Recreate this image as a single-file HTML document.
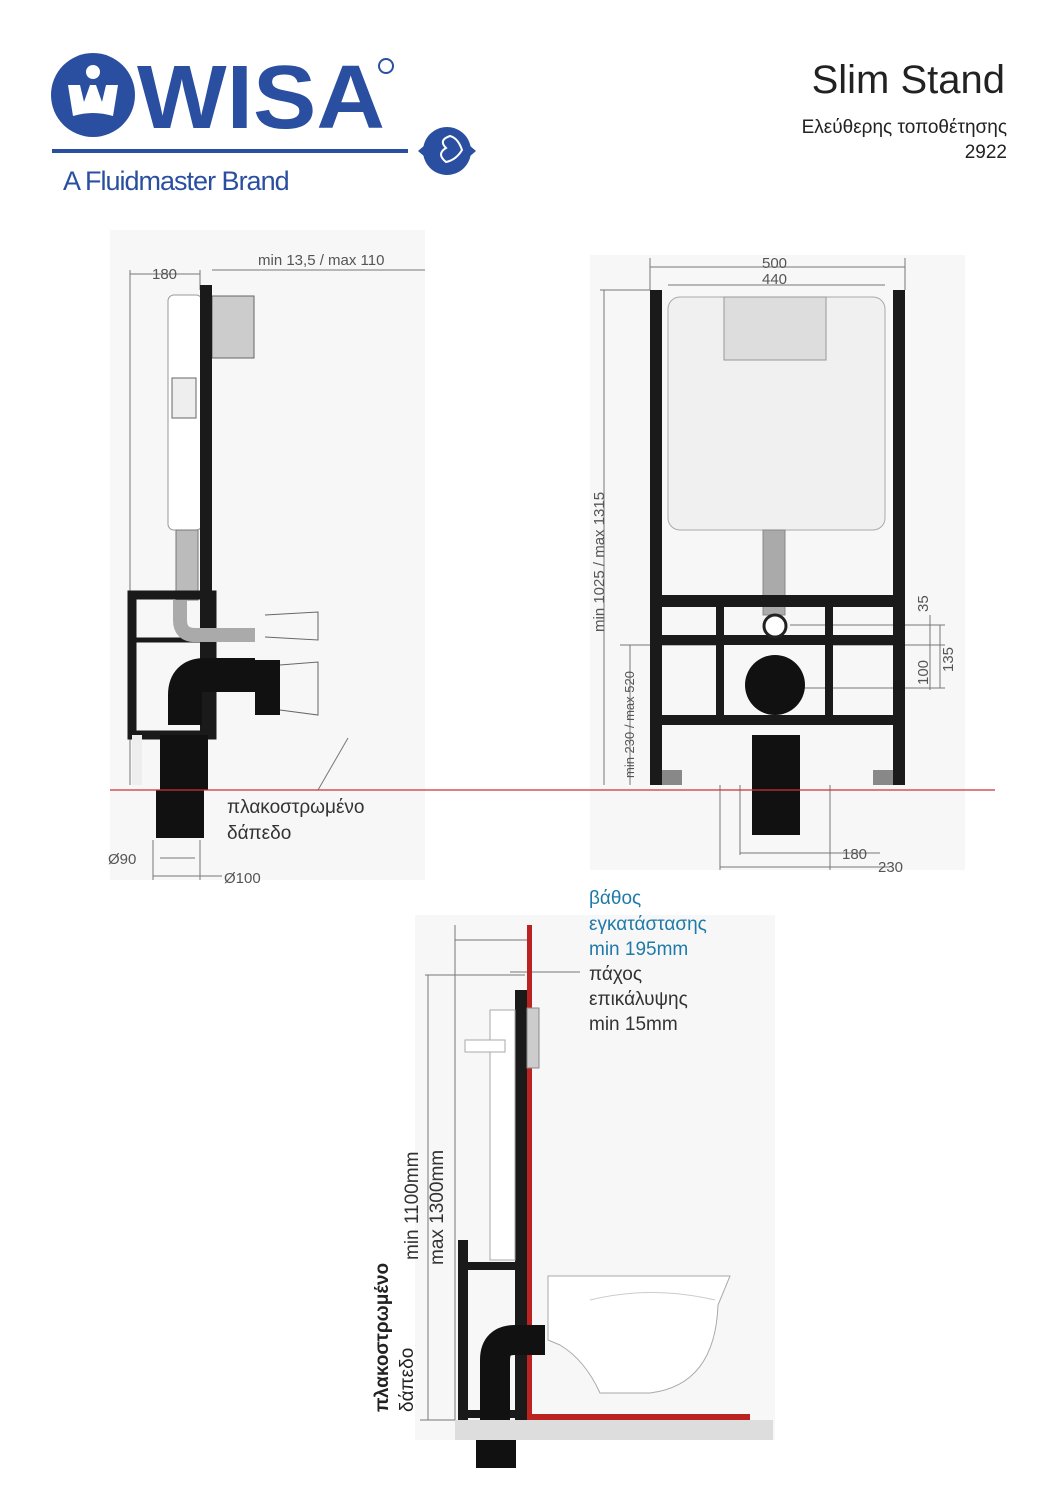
<!DOCTYPE html>
<html><head><meta charset="utf-8"><style>
html,body{margin:0;padding:0;background:#fff}
svg{display:block}
text{font-family:"Liberation Sans","DejaVu Sans",sans-serif}
</style></head><body>
<svg width="1058" height="1497" viewBox="0 0 1058 1497" xmlns="http://www.w3.org/2000/svg">
<!-- LOGO -->
<circle cx="93" cy="95" r="42" fill="#2b4fa0"/>
<circle cx="93" cy="72" r="7" fill="#fff"/>
<path d="M68 85 L80 85 L84 102 L90 85 L96 85 L102 102 L106 85 L118 85 L113 116 Q93 110 73 116 Z" fill="#fff"/>
<text x="137" y="128" font-size="90" font-weight="bold" fill="#2b4fa0" textLength="248" lengthAdjust="spacingAndGlyphs">WISA</text>
<circle cx="386" cy="66" r="7" fill="none" stroke="#2b4fa0" stroke-width="2"/>
<rect x="52" y="149" width="356" height="4" fill="#2b4fa0"/>
<circle cx="447" cy="151" r="24" fill="#2b4fa0"/>
<path d="M418 151 l7 -6 v12z M476 151 l-7 -6 v12z" fill="#2b4fa0"/>
<path d="M450 136 q-12 4 -4 12 q-10 6 0 14 q10 -2 16 -12 q-4 -12 -12 -14z" fill="none" stroke="#fff" stroke-width="2"/>
<text x="63" y="190" font-size="27" fill="#2b4fa0" letter-spacing="-1">A Fluidmaster Brand</text>
<!-- TITLE -->
<text x="1005" y="93" font-size="40" text-anchor="end" fill="#222">Slim Stand</text>
<text x="1007" y="133" font-size="19" text-anchor="end" fill="#222">Ελεύθερης τοποθέτησης</text>
<text x="1007" y="158" font-size="19" text-anchor="end" fill="#222">2922</text>

<!-- LEFT DRAWING -->
<rect x="110" y="230" width="315" height="650" fill="#f7f7f7"/>
<g stroke="#777" stroke-width="1" fill="none">
<line x1="130" y1="270" x2="130" y2="785"/><line x1="200" y1="270" x2="200" y2="290"/>
<line x1="130" y1="274" x2="200" y2="274"/><line x1="212" y1="270" x2="425" y2="270"/>
<line x1="153" y1="840" x2="153" y2="880"/><line x1="200" y1="840" x2="200" y2="880"/>
<line x1="153" y1="876" x2="222" y2="876"/><line x1="160" y1="858" x2="195" y2="858"/>
<line x1="318" y1="790" x2="348" y2="738"/>
</g>
<text x="152" y="279" font-size="15" fill="#555">180</text>
<text x="258" y="265" font-size="15" fill="#555">min 13,5  /  max 110</text>
<rect x="168" y="295" width="34" height="235" rx="6" fill="#fff" stroke="#999"/>
<rect x="172" y="378" width="24" height="40" fill="#eee" stroke="#666"/>
<rect x="176" y="530" width="22" height="70" fill="#bbb" stroke="#777"/>
<rect x="212" y="296" width="42" height="62" fill="#ccc" stroke="#666"/>
<rect x="200" y="285" width="12" height="450" fill="#1a1a1a"/>
<rect x="132" y="595" width="80" height="140" fill="none" stroke="#1a1a1a" stroke-width="9"/>
<line x1="136" y1="640" x2="208" y2="640" stroke="#1a1a1a" stroke-width="5"/>
<path d="M180 600 v20 q0 15 15 15 h60" fill="none" stroke="#aaa" stroke-width="14"/>
<path d="M185 725 v-30 q0 -20 20 -20 h50" fill="none" stroke="#111" stroke-width="34"/>
<rect x="255" y="660" width="25" height="55" fill="#111"/>
<path d="M280 665 L318 662 L318 715 L280 710" fill="none" stroke="#666"/>
<path d="M265 615 L318 612 L318 640 L265 637" fill="none" stroke="#666"/>
<rect x="160" y="735" width="48" height="55" fill="#111"/>
<rect x="156" y="790" width="48" height="48" fill="#111"/>
<rect x="132" y="735" width="10" height="50" fill="#eee"/>
<text x="227" y="813" font-size="19" fill="#333">πλακοστρωμένο</text>
<text x="227" y="839" font-size="19" fill="#333">δάπεδο</text>
<text x="108" y="864" font-size="15" fill="#555">Ø90</text>
<text x="224" y="883" font-size="15" fill="#555">Ø100</text>

<!-- RIGHT DRAWING -->
<rect x="590" y="255" width="375" height="615" fill="#f7f7f7"/>
<g stroke="#777" stroke-width="1" fill="none">
<line x1="650" y1="258" x2="650" y2="290"/><line x1="905" y1="258" x2="905" y2="290"/>
<line x1="650" y1="267" x2="905" y2="267"/><line x1="668" y1="285" x2="885" y2="285"/>
<line x1="600" y1="290" x2="650" y2="290"/><line x1="604" y1="290" x2="604" y2="785"/>
<line x1="630" y1="645" x2="630" y2="785"/><line x1="620" y1="645" x2="720" y2="645"/>
<line x1="720" y1="785" x2="720" y2="870"/><line x1="740" y1="785" x2="740" y2="855"/>
<line x1="830" y1="785" x2="830" y2="870"/><line x1="740" y1="853" x2="880" y2="853"/>
<line x1="720" y1="867" x2="890" y2="867"/>
<line x1="930" y1="615" x2="930" y2="690"/><line x1="790" y1="625" x2="945" y2="625"/>
<line x1="830" y1="645" x2="945" y2="645"/><line x1="800" y1="688" x2="945" y2="688"/>
<line x1="940" y1="625" x2="940" y2="688"/>
</g>
<text x="762" y="268" font-size="15" fill="#555">500</text>
<text x="762" y="284" font-size="15" fill="#555">440</text>
<text transform="translate(604,632) rotate(-90)" font-size="15" fill="#555">min 1025 / max 1315</text>
<text transform="translate(634,778) rotate(-90)" font-size="13" fill="#555">min 230 / max 520</text>
<text transform="translate(928,612) rotate(-90)" font-size="15" fill="#555">35</text>
<text transform="translate(928,685) rotate(-90)" font-size="15" fill="#555">100</text>
<text transform="translate(953,672) rotate(-90)" font-size="15" fill="#555">135</text>
<text x="842" y="859" font-size="15" fill="#555">180</text>
<text x="878" y="872" font-size="15" fill="#555">230</text>
<rect x="668" y="297" width="217" height="233" rx="12" fill="#f0f0f0" stroke="#aaa"/>
<rect x="724" y="297" width="102" height="63" fill="#ddd" stroke="#999"/>
<rect x="763" y="530" width="22" height="85" fill="#aaa" stroke="#888"/>
<rect x="650" y="290" width="12" height="495" fill="#1a1a1a"/>
<rect x="893" y="290" width="12" height="495" fill="#1a1a1a"/>
<rect x="650" y="595" width="255" height="12" fill="#1a1a1a"/>
<rect x="662" y="635" width="231" height="10" fill="#1a1a1a"/>
<rect x="662" y="715" width="231" height="10" fill="#1a1a1a"/>
<rect x="716" y="600" width="8" height="120" fill="#1a1a1a"/>
<rect x="825" y="600" width="8" height="120" fill="#1a1a1a"/>
<circle cx="775" cy="626" r="11" fill="#fff" stroke="#222" stroke-width="3"/>
<circle cx="775" cy="685" r="30" fill="#111"/>
<rect x="752" y="735" width="48" height="100" fill="#111"/>
<rect x="662" y="770" width="20" height="15" fill="#888"/><rect x="873" y="770" width="20" height="15" fill="#888"/>

<line x1="110" y1="790" x2="995" y2="790" stroke="#c33" stroke-width="1.2"/>

<!-- BOTTOM DRAWING -->
<rect x="415" y="915" width="360" height="525" fill="#f7f7f7"/>
<g stroke="#777" stroke-width="1" fill="none">
<line x1="455" y1="925" x2="455" y2="1420"/><line x1="455" y1="940" x2="527" y2="940"/>
<line x1="510" y1="972" x2="580" y2="972"/><line x1="425" y1="975" x2="525" y2="975"/>
<line x1="428" y1="975" x2="428" y2="1420"/><line x1="420" y1="1420" x2="455" y2="1420"/>
</g>
<rect x="527" y="925" width="5" height="495" fill="#b22"/>
<rect x="515" y="990" width="12" height="430" fill="#1a1a1a"/>
<rect x="490" y="1010" width="25" height="250" fill="#fff" stroke="#aaa"/>
<rect x="465" y="1040" width="40" height="12" fill="#fff" stroke="#aaa"/>
<rect x="527" y="1008" width="12" height="60" fill="#ccc" stroke="#888"/>
<rect x="458" y="1240" width="10" height="180" fill="#1a1a1a"/>
<rect x="458" y="1262" width="62" height="8" fill="#1a1a1a"/>
<rect x="458" y="1410" width="62" height="8" fill="#1a1a1a"/>
<path d="M495 1420 v-60 q0 -20 20 -20 h30" fill="none" stroke="#111" stroke-width="30"/>
<rect x="476" y="1420" width="40" height="48" fill="#111"/>
<path d="M548 1276 L730 1276 L718 1305 Q715 1385 650 1393 L600 1393 Q585 1360 560 1345 L548 1340 Z" fill="#fff" stroke="#aaa"/>
<path d="M590 1300 Q650 1285 715 1300" fill="none" stroke="#ccc"/>
<rect x="455" y="1420" width="318" height="20" fill="#ddd"/>
<rect x="532" y="1414" width="218" height="6" fill="#b22"/>
<text x="589" y="904" font-size="19" fill="#1f7aa8">βάθος</text>
<text x="589" y="930" font-size="19" fill="#1f7aa8">εγκατάστασης</text>
<text x="589" y="955" font-size="19" fill="#1f7aa8">min 195mm</text>
<text x="589" y="980" font-size="19" fill="#333">πάχος</text>
<text x="589" y="1005" font-size="19" fill="#333">επικάλυψης</text>
<text x="589" y="1030" font-size="19" fill="#333">min 15mm</text>
<text transform="translate(418,1260) rotate(-90)" font-size="19" fill="#333">min 1100mm</text>
<text transform="translate(443,1265) rotate(-90)" font-size="19" fill="#333">max 1300mm</text>
<text transform="translate(388,1412) rotate(-90)" font-size="19" font-weight="bold" fill="#222">πλακοστρωμένο</text>
<text transform="translate(413,1412) rotate(-90)" font-size="19" fill="#222">δάπεδο</text>
</svg>
</body></html>
